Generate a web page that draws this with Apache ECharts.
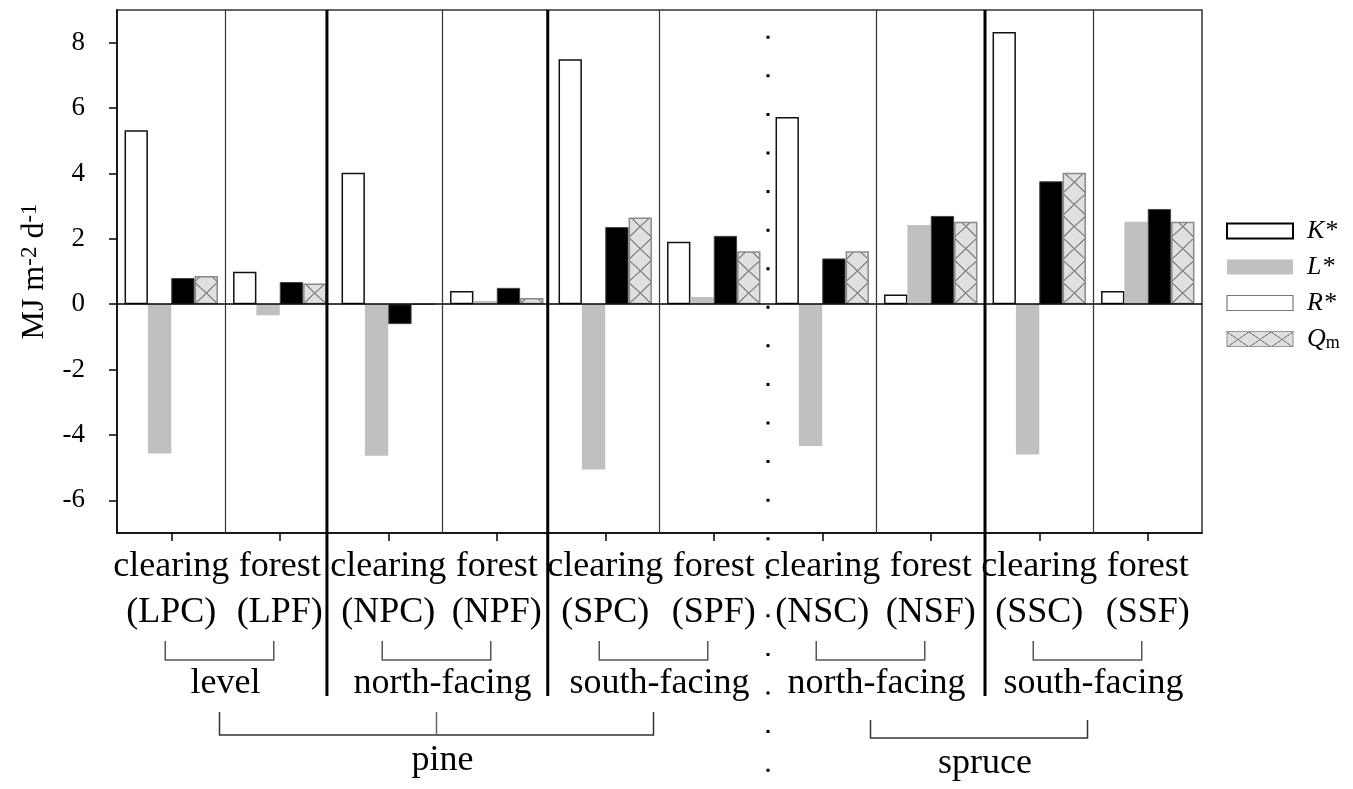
<!DOCTYPE html>
<html><head><meta charset="utf-8">
<script src="https://cdn.jsdelivr.net/npm/echarts@6/dist/echarts.min.js"></script>
<style>html,body{margin:0;padding:0;background:#fff}#c{width:1353px;height:789px}</style>
</head><body><div id="c"></div>
<script>
// ---------- data ----------
const categories = ['clearing\n(LPC)','forest\n(LPF)','clearing\n(NPC)','forest\n(NPF)','clearing\n(SPC)','forest\n(SPF)','clearing\n(NSC)','forest\n(NSF)','clearing\n(SSC)','forest\n(SSF)'];
const kStar = [5.32, 0.99, 4.02, 0.40, 7.49, 1.91, 5.73, 0.30, 8.33, 0.40];
const lStar = [-4.57, -0.34, -4.64, 0.10, -5.06, 0.22, -4.34, 2.42, -4.60, 2.52];
const rStar = [0.80, 0.68, -0.61, 0.50, 2.36, 2.09, 1.40, 2.70, 3.76, 2.91];
const qM    = [0.86, 0.63, 0, 0.19, 2.65, 1.62, 1.62, 2.52, 4.02, 2.52];
const yTicks = [-6, -4, -2, 0, 2, 4, 6, 8];
const seriesNames = ['K*', 'L*', 'R*', 'Qm'];
// site groups: pairs of categories (index of clearing, index of forest)
const siteGroups = [
  {from: 0, to: 1, label: 'level'},
  {from: 2, to: 3, label: 'north-facing'},
  {from: 4, to: 5, label: 'south-facing'},
  {from: 6, to: 7, label: 'north-facing'},
  {from: 8, to: 9, label: 'south-facing'}
];
// species groups, in category-position units
const speciesGroups = [
  {from: 0.5, mid: 2.5, to: 4.5, label: 'pine'},
  {from: 6.5, mid: null, to: 8.5, label: 'spruce', labelAt: 7.5}
];
// vertical separators, in category-position units
const separators = [
  {pos: 0.5, kind: 'thin'}, {pos: 1.435, kind: 'thick'}, {pos: 2.5, kind: 'thin'},
  {pos: 3.47, kind: 'thick'}, {pos: 4.5, kind: 'thin'}, {pos: 5.5, kind: 'dotted'},
  {pos: 6.5, kind: 'thin'}, {pos: 7.5, kind: 'thick'}, {pos: 8.5, kind: 'thin'}
];

// ---------- styling ----------
const FONT = 'Liberation Serif';
const HI_W = 100, HI_H = 100;
function hatchTile(w, h, lw) {
  const c = document.createElement('canvas'); c.width = w; c.height = h;
  const g = c.getContext('2d');
  g.fillStyle = '#e0e0e0'; g.fillRect(0, 0, w, h);
  g.strokeStyle = '#8a8a8a'; g.lineWidth = lw;
  g.beginPath(); g.moveTo(0, 0); g.lineTo(w, h); g.moveTo(w, 0); g.lineTo(0, h); g.stroke();
  return c;
}
const hatchHi = hatchTile(HI_W, HI_H, 6);
const hatchSmall = hatchTile(23, 22, 1.4);

const chart = echarts.init(document.getElementById('c'), null, {renderer: 'canvas', width: 1353, height: 789});

const barBase = {type: 'bar', barGap: '0%', barCategoryGap: '13.9%', emphasis: {disabled: true}, silent: true};

const option = {
  animation: false,
  backgroundColor: '#fff',
  grid: {left: 117, right: 151, top: 10, bottom: 256, show: true, borderColor: '#333', borderWidth: 1.5, backgroundColor: 'transparent'},
  legend: {
    orient: 'vertical', left: 1221, top: 213, itemWidth: 66, itemHeight: 15, itemGap: 10, icon: 'rect',
    selectedMode: false,
    formatter: n => n === 'Qm' ? '{i|Q}{s|m}' : '{i|' + n + '}',
    textStyle: {
      color: '#000', fontFamily: FONT,
      rich: {
        i: {fontFamily: FONT, fontStyle: 'italic', fontSize: 26, lineHeight: 26, padding: [0, 0, 0, 9], color: '#000'},
        s: {fontFamily: FONT, fontSize: 18, lineHeight: 6, verticalAlign: 'bottom', color: '#000'}
      }
    },
    data: [
      {name: 'K*', itemStyle: {color: '#fff', borderColor: '#000', borderWidth: 2}},
      {name: 'L*', itemStyle: {color: '#c0c0c0', borderWidth: 0}},
      {name: 'R*', itemStyle: {color: '#fff', borderColor: '#777', borderWidth: 1.2}},
      {name: 'Qm', itemStyle: {color: {image: hatchHi, repeat: 'repeat', x: 1221, y: 338, scaleX: 22 / HI_W, scaleY: 15 / HI_H}, borderColor: '#999', borderWidth: 1.2}}
    ]
  },
  xAxis: {
    type: 'category', data: categories,
    axisLine: {show: true, onZero: false, lineStyle: {color: '#000', width: 1.5}},
    axisTick: {show: true, alignWithLabel: true, interval: 0, length: 8, lineStyle: {color: '#000', width: 1.5}},
    axisLabel: {interval: 0, fontFamily: FONT, fontSize: 36, lineHeight: 46, color: '#000', margin: 11},
    splitLine: {show: false}
  },
  yAxis: {
    type: 'value', min: -7, max: 9,
    axisLine: {show: true, lineStyle: {color: '#000', width: 1.5}},
    axisTick: {show: true, customValues: yTicks, length: 8, lineStyle: {color: '#000', width: 1.5}},
    axisLabel: {customValues: yTicks, fontFamily: FONT, fontSize: 27, color: '#000', margin: 32},
    splitLine: {show: false},
    name: '{b|MJ m}{sup|-2}{b| d}{sup|-1}',
    nameLocation: 'middle', nameRotate: 90, nameGap: 66,
    nameTextStyle: {
      color: '#000', fontFamily: FONT,
      rich: {
        b: {fontFamily: FONT, fontSize: 32, lineHeight: 33, color: '#000'},
        sup: {fontFamily: FONT, fontSize: 23, lineHeight: 16, verticalAlign: 'top', color: '#000'}
      }
    }
  },
  series: [
    Object.assign({name: 'K*', data: kStar, itemStyle: {color: '#fff', borderColor: '#111', borderWidth: 1.5}}, barBase),
    Object.assign({name: 'L*', data: lStar, itemStyle: {color: '#c0c0c0', borderWidth: 0}}, barBase),
    Object.assign({name: 'R*', data: rStar, itemStyle: {color: '#000', borderColor: '#444', borderWidth: 1}}, barBase),
    Object.assign({name: 'Qm', data: qM, itemStyle: {color: {image: hatchSmall, repeat: 'repeat'}, borderColor: '#8a8a8a', borderWidth: 1.5},
      markLine: {silent: true, symbol: ['none', 'none'], label: {show: false}, lineStyle: {color: '#000', width: 1.5, type: 'solid'}, data: [{yAxis: 0}]}
    }, barBase)
  ]
};

chart.setOption(option);

// ---------- second pass: align hatch patterns to bars, add annotations ----------
try {
  const qData = chart.getModel().getSeriesByIndex(3).getData();
  option.series[3].data = qM.map((v, i) => {
    const lay = qData.getItemLayout(i);
    if (!lay || !lay.width) return v;
    const w = lay.width;
    return {value: v, itemStyle: {color: {image: hatchHi, repeat: 'repeat', x: lay.x, y: lay.y, scaleX: w / HI_W, scaleY: (w * 0.95) / HI_H}}};
  });
} catch (e) {}

const x0 = chart.convertToPixel({xAxisIndex: 0}, 0);
const cw = chart.convertToPixel({xAxisIndex: 0}, 1) - x0;
const px = p => x0 + p * cw;
const yTop = chart.convertToPixel({yAxisIndex: 0}, 9);
const yBot = chart.convertToPixel({yAxisIndex: 0}, -7);
const SHIFT = -6;
const els = [];
separators.forEach(s => {
  const x = px(s.pos);
  if (s.kind === 'thin') {
    els.push({type: 'line', silent: true, z: 10, shape: {x1: x, y1: yTop, x2: x, y2: yBot}, style: {stroke: '#333', lineWidth: 1.2}});
  } else if (s.kind === 'thick') {
    els.push({type: 'line', silent: true, z: 10, shape: {x1: x, y1: yTop, x2: x, y2: 696}, style: {stroke: '#000', lineWidth: 3}});
  } else {
    els.push({type: 'line', silent: true, z: 10, shape: {x1: x, y1: 35.8, x2: x, y2: 789}, style: {stroke: '#000', lineWidth: 3, lineDash: [3, 35.57]}});
  }
});
siteGroups.forEach(g => {
  const l = px(g.from) + SHIFT, r = px(g.to) + SHIFT;
  els.push({type: 'polyline', silent: true, z: 10, shape: {points: [[l, 641], [l, 660], [r, 660], [r, 641]]}, style: {stroke: '#555', lineWidth: 1.5, fill: null}});
  els.push({type: 'text', silent: true, z: 10, x: px((g.from + g.to) / 2), y: 684, style: {text: g.label, fontFamily: FONT, fontSize: 36, fill: '#000', align: 'center', verticalAlign: 'middle'}});
});
speciesGroups.forEach((g, k) => {
  const l = px(g.from) + SHIFT, r = px(g.to) + SHIFT;
  const yt = k === 0 ? 712 : 720, yb = k === 0 ? 735 : 738;
  els.push({type: 'polyline', silent: true, z: 10, shape: {points: [[l, yt], [l, yb], [r, yb], [r, yt]]}, style: {stroke: '#333', lineWidth: 1.5, fill: null}});
  if (g.mid !== null) {
    const m = px(g.mid) + SHIFT;
    els.push({type: 'line', silent: true, z: 10, shape: {x1: m, y1: yt, x2: m, y2: yb}, style: {stroke: '#666', lineWidth: 1.5}});
  }
  const lx = px(g.mid !== null ? g.mid : g.labelAt);
  els.push({type: 'text', silent: true, z: 10, x: lx, y: k === 0 ? 761 : 764, style: {text: g.label, fontFamily: FONT, fontSize: 36, fill: '#000', align: 'center', verticalAlign: 'middle'}});
});
option.graphic = {elements: els};
chart.setOption(option);
</script>
</body></html>
